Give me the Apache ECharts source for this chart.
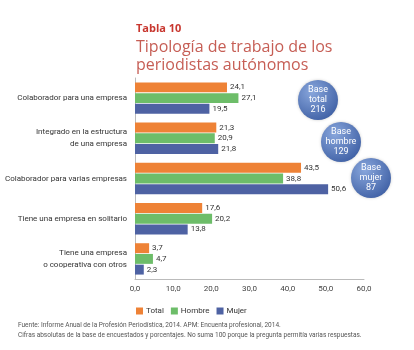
<!DOCTYPE html>
<html>
<head>
<meta charset="utf-8">
<script src="https://cdn.jsdelivr.net/npm/echarts@6/dist/echarts.min.js"></script>
<style>
  html, body { margin: 0; padding: 0; background: #fff; }
  #main { width: 414px; height: 350px; }
</style>
</head>
<body>
<div id="main"></div>
<script>
var categories = [
  'Colaborador para una empresa',
  'Integrado en la estructura\nde una empresa',
  'Colaborador para varias empresas',
  'Tiene una empresa en solitario',
  'Tiene una empresa\no cooperativa con otros'
];
var seriesNames = ['Total', 'Hombre', 'Mujer'];
var totalValues = [24.1, 21.3, 43.5, 17.6, 3.7];
var hombreValues = [27.1, 20.9, 38.8, 20.2, 4.7];
var mujerValues = [19.5, 21.8, 50.6, 13.8, 2.3];
var baseLabels = ['Base\ntotal\n216', 'Base\nhombre\n129', 'Base\nmujer\n87'];

var chartDom = document.getElementById('main');
var myChart = echarts.init(chartDom);
var font = 'Open Sans';
var narrow = 'Roboto';

function comma(v) {
  return Number(v).toFixed(1).replace('.', ',');
}

function bar(name, data) {
  return {
    name: name,
    type: 'bar',
    data: data,
    barGap: '8%',
    barCategoryGap: '22%',
    label: {
      show: true,
      position: 'right',
      distance: 3,
      color: '#333',
      fontSize: 8,
      fontFamily: narrow,
      formatter: function (p) { return comma(p.value); }
    }
  };
}

var circlePos = [[318, 100], [341, 142], [371, 178]];
var graphics = [];
circlePos.forEach(function (c, i) {
  graphics.push({
    type: 'circle',
    shape: { cx: c[0], cy: c[1], r: 20 },
    style: {
      fill: new echarts.graphic.RadialGradient(0.35, 0.3, 0.8, [
        { offset: 0, color: '#88a6dc' },
        { offset: 1, color: '#3d5ea3' }
      ]),
      shadowBlur: 3,
      shadowColor: 'rgba(0,0,0,0.2)'
    },
    z: 10
  });
  graphics.push({
    type: 'text',
    x: c[0],
    y: c[1],
    style: {
      text: baseLabels[i],
      fill: '#fff',
      font: '9px ' + narrow,
      lineHeight: 10,
      align: 'center',
      verticalAlign: 'middle'
    },
    z: 11
  });
});
graphics.push({
  type: 'text',
  left: 18,
  top: 320,
  style: {
    text: 'Fuente: Informe Anual de la Profesión Periodística, 2014. APM: Encuenta profesional, 2014.\nCifras absolutas de la base de encuestados y porcentajes. No suma 100 porque la pregunta permitía varias respuestas.',
    fill: '#555',
    font: '6.5px ' + narrow,
    lineHeight: 10
  }
});

var option = {
  color: ['#ee8236', '#6dbd69', '#4e62a3'],
  title: {
    text: 'Tabla 10',
    subtext: 'Tipología de trabajo de los\nperiodistas autónomos',
    left: 131,
    top: 18,
    itemGap: 4,
    textStyle: { color: '#c8372f', fontSize: 11, fontWeight: 'bold', fontFamily: font },
    subtextStyle: { color: '#c65e55', fontSize: 16, lineHeight: 18, fontFamily: font }
  },
  legend: {
    data: seriesNames,
    left: 131,
    top: 302,
    itemWidth: 7,
    itemHeight: 7,
    itemGap: 7,
    icon: 'rect',
    textStyle: { color: '#333', fontSize: 8, fontFamily: narrow, padding: [0, 0, 0, -2] }
  },
  grid: { left: 135, right: 50, top: 78, bottom: 71, containLabel: false, outerBoundsMode: 'none' },
  xAxis: {
    type: 'value',
    min: 0,
    max: 60,
    interval: 10,
    splitLine: { show: false },
    axisLine: { show: true, lineStyle: { color: '#bbb' } },
    axisTick: { show: false },
    axisLabel: {
      color: '#444',
      fontSize: 8,
      fontFamily: narrow,
      margin: 6,
      formatter: function (v) { return comma(v); }
    }
  },
  yAxis: {
    type: 'category',
    data: categories,
    inverse: true,
    axisLine: { show: true, lineStyle: { color: '#bbb' } },
    axisTick: { show: false },
    axisLabel: {
      color: '#333',
      fontSize: 8,
      fontFamily: narrow,
      lineHeight: 12,
      margin: 8,
      align: 'right'
    }
  },
  series: [
    bar(seriesNames[0], totalValues),
    bar(seriesNames[1], hombreValues),
    bar(seriesNames[2], mujerValues)
  ],
  graphic: graphics
};

option && myChart.setOption(option);
</script>
</body>
</html>
